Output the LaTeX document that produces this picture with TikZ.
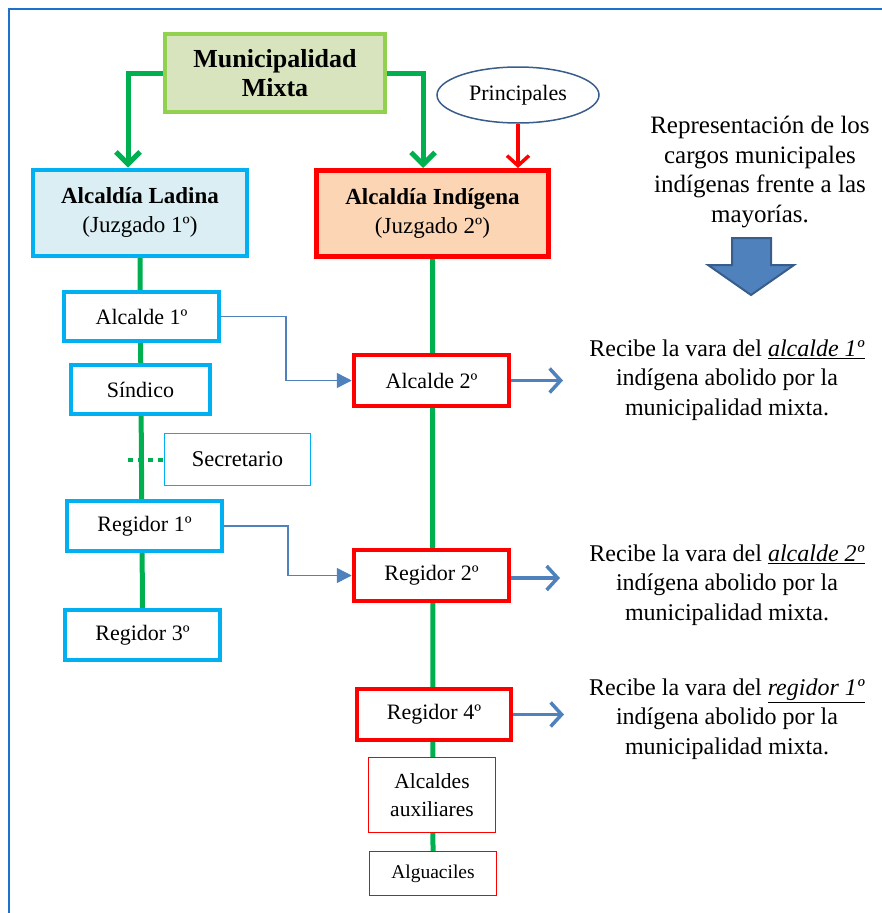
\documentclass[tikz,border=0pt]{standalone}
\usepackage{fontspec}
\setmainfont{Liberation Serif}
\usetikzlibrary{arrows.meta,calc,shapes.geometric,backgrounds}

\definecolor{frameblue}{HTML}{1A73C8}
\definecolor{gline}{HTML}{00B050}
\definecolor{mixfill}{HTML}{D7E4BD}
\definecolor{mixdraw}{HTML}{92D050}
\definecolor{ladfill}{HTML}{DAEEF3}
\definecolor{ladraw}{HTML}{00B0F0}
\definecolor{indfill}{HTML}{FCD5B5}
\definecolor{steel}{HTML}{4F81BD}
\definecolor{steeldark}{HTML}{385D8A}

\tikzset{
  box/.style={rectangle, inner sep=0pt, align=center, fill=white, font=\fontsize{22}{26}\selectfont},
  ladbox/.style={box, draw=ladraw, line width=4pt},
  thinlad/.style={box, draw=ladraw, line width=1.5pt},
  indbox/.style={box, draw=red, line width=4.5pt},
  thinind/.style={box, draw=red, line width=1.3pt, font=\fontsize{21.5}{28}\selectfont},
  greenarrow/.style={draw=gline, line width=5pt, -{Straight Barb[length=12pt,width=24pt]}},
  greenline/.style={draw=gline, line width=5pt},
  elbow/.style={draw=steel, line width=1.5pt, -{Triangle[length=15pt,width=15pt]}},
  outarrow/.style={draw=steel, line width=3.5pt, -{Straight Barb[length=11pt,width=24pt]}},
  note/.style={align=center, font=\fontsize{24}{29.5}\selectfont},
}

\begin{document}
\begin{tikzpicture}[x=1pt,y=-1pt]
  \useasboundingbox (0,0) rectangle (882,913);

  % outer frame (top and left edges)
  \coordinate (fr0) at (9,9);
  \coordinate (frr) at (882,9);
  \coordinate (frb) at (9,913);
  \draw[frameblue, line width=2pt] (frr) -- (fr0) -- (frb);

  % top of the hierarchy
  \node[box, draw=mixdraw, fill=mixfill, line width=4pt, minimum width=220pt, minimum height=78pt,
        font=\fontsize{26}{29}\selectfont\bfseries] (muni) at (275,73) {Municipalidad\\Mixta};

  \node[box, draw=ladraw, fill=ladfill, line width=4pt, minimum width=214pt, minimum height=86pt,
        font=\fontsize{23}{29}\selectfont] (ladina) at (140,212.5)
    {{\bfseries Alcaldía Ladina}\\(Juzgado 1º)};
  \node[box, draw=red, fill=indfill, line width=5pt, minimum width=232pt, minimum height=86pt,
        font=\fontsize{23}{29}\selectfont] (indig) at (432.5,213.5)
    {{\bfseries Alcaldía Indígena}\\(Juzgado 2º)};

  \node[ellipse, draw=steeldark, line width=1.5pt, fill=white, minimum width=162pt, minimum height=56pt,
        inner sep=0pt, font=\fontsize{22}{26}\selectfont] (princ) at (518,95) {Principales};

  % ladino column
  \node[ladbox, minimum width=155pt, minimum height=49pt] (alc1) at (141.5,316.5) {Alcalde 1º};
  \node[ladbox, minimum width=139pt, minimum height=49pt] (sind) at (140.5,389.5) {Síndico};
  \node[thinlad, minimum width=146pt, minimum height=52pt, font=\fontsize{22.5}{26}\selectfont] (secr) at (237.5,459.5) {Secretario};
  \node[ladbox, minimum width=155pt, minimum height=50pt] (reg1) at (144.5,526) {Regidor 1º};
  \node[ladbox, minimum width=155pt, minimum height=50pt] (reg3) at (142.5,635) {Regidor 3º};

  % indigenous column
  \node[indbox, minimum width=155pt, minimum height=51pt] (alc2) at (431.5,380.5) {Alcalde 2º};
  \node[indbox, minimum width=155pt, minimum height=51pt] (reg2) at (431.5,575.5) {Regidor 2º};
  \node[indbox, minimum width=154pt, minimum height=51pt] (reg4) at (434,714.5) {Regidor 4º};
  \node[thinind, minimum width=127pt, minimum height=75pt] (aux) at (432,795) {Alcaldes\\auxiliares};
  \node[thinind, minimum width=127pt, minimum height=44pt, font=\fontsize{19.5}{23}\selectfont] (algu) at (433,873.5) {Alguaciles};

  % explanatory texts
  \node[note, font=\fontsize{25}{29.5}\selectfont] (title) at (760,172) {Representación de los\\cargos municipales\\indígenas frente a las\\mayorías.};
  \node[note] (txt1) at (727,380) {Recibe la vara del \underline{\textit{alcalde 1º}}\\indígena abolido por la\\municipalidad mixta.};
  \node[note] (txt2) at (727,585) {Recibe la vara del \underline{\textit{alcalde 2º}}\\indígena abolido por la\\municipalidad mixta.};
  \node[note] (txt3) at (727,719) {Recibe la vara del \underline{\textit{regidor 1º}}\\indígena abolido por la\\municipalidad mixta.};

  % block arrow under the title
  \draw[fill=steel, draw=steeldark, line width=2pt, line join=miter]
    (732,238) -- (771,238) -- (771,265) -- (794,265) -- (751,295) -- (708,265) -- (732,265) -- cycle;

  % green hierarchy lines behind the boxes
  \begin{pgfonlayer}{background}
    \draw[greenline] (ladina.south) -- (reg3.north);
    \draw[greenline] (indig.south) -- (algu.north);
  \end{pgfonlayer}

  % branches from the mixed municipality
  \draw[greenarrow] (muni.west) -| ([xshift=-12pt]ladina.north);
  \draw[greenarrow] (muni.east) -| ([xshift=-9.5pt]indig.north);

  % principales into the indigenous mayoralty
  \draw[red, line width=3.5pt, -{Straight Barb[length=10pt,width=22pt]}] (princ.south) -- (princ.south |- indig.north);

  % secretary hanging off the ladino line
  \coordinate (secl) at (128,459.5);
  \draw[gline, line width=4pt, dash pattern=on 5pt off 5pt] (secl) -- (secr.west);

  % rank correspondences
  \draw[elbow] (alc1.east) -- ($(alc1.east)+(65,0)$) |- (alc2.west);
  \draw[elbow] (reg1.east) -- ($(reg1.east)+(64,0)$) |- (reg2.west);

  % arrows toward the explanations
  \coordinate (o1) at (563,380.5);
  \coordinate (o2) at (560,578);
  \coordinate (o3) at (564,714.5);
  \draw[outarrow] (alc2.east) -- (o1);
  \draw[outarrow] (reg2.east |- o2) -- (o2);
  \draw[outarrow] (reg4.east) -- (o3);
\end{tikzpicture}
\end{document}
